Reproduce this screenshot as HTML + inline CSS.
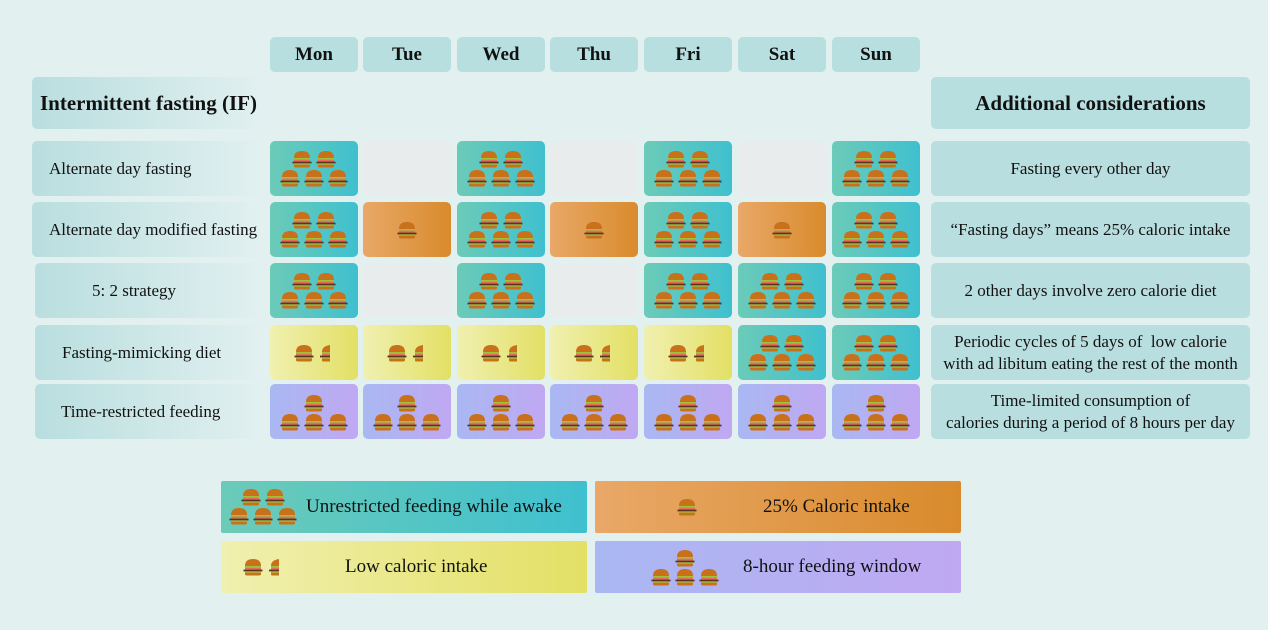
<!DOCTYPE html>
<html><head><meta charset="utf-8"><style>
body{margin:0;width:1268px;height:630px;background:#e2f0f0;font-family:"Liberation Serif",serif;position:relative;overflow:hidden}
.a{position:absolute;box-sizing:border-box;border-radius:5px;display:flex;align-items:center;justify-content:center;color:#111}
.day{background:#b8dfe0;font-weight:bold;font-size:19px}
.lab{background:linear-gradient(90deg,#b9dedf,#e2f0f0);font-size:17px;justify-content:flex-start;padding-left:17px;white-space:nowrap}
.rt{background:#b9dedf;font-size:17px;text-align:center;line-height:22px;white-space:nowrap}
.full{background:linear-gradient(90deg,#6ccbb8,#3fc0cf)}
.quar{background:linear-gradient(90deg,#e9a868,#d98b2c)}
.low{background:linear-gradient(90deg,#f0f0b0,#e3e065)}
.win{background:linear-gradient(90deg,#a9b8f2,#c0a8f2)}
.none{background:#e8eced}
svg.b{position:absolute}
.leg{font-size:19px}
</style></head><body>
<svg width="0" height="0" style="position:absolute"><defs>
<symbol id="burger" viewBox="0 0 20 18"><path d="M2 8 Q2 1 10 1 Q18 1 18 8Z" fill="#c8701a"/><rect x="2" y="8" width="16" height="1.6" fill="#9cc43a"/><rect x="2" y="9.6" width="16" height="2" fill="#e86a5a"/><rect x="0.5" y="11.6" width="19" height="1.8" fill="#5a3420"/><rect x="2" y="13.4" width="16" height="1.2" fill="#9cc43a"/><path d="M2 14.6 H18 V16 Q18 17.5 16 17.5 H4 Q2 17.5 2 16Z" fill="#c8701a"/></symbol>
<symbol id="half" viewBox="0 0 20 18"><path d="M6 8 Q6 2 14 1 V8Z" fill="#c8701a"/><rect x="6" y="8" width="8" height="1.6" fill="#9cc43a"/><rect x="6" y="9.6" width="8" height="2" fill="#e86a5a"/><rect x="4" y="11.6" width="10" height="1.8" fill="#5a3420"/><rect x="6" y="13.4" width="8" height="1.2" fill="#9cc43a"/><path d="M6 14.6 H14 V17.5 H7 Q6 17.5 6 16Z" fill="#c8701a"/></symbol>
</defs></svg>
<script>
const days=["Mon","Tue","Wed","Thu","Fri","Sat","Sun"];
const rowLabels=["Alternate day fasting","Alternate day modified fasting","5:2 strategy","Fasting-mimicking diet","Time-restricted feeding"];
const rowNotes=["Fasting every other day","“Fasting days” means 25% caloric intake","2 other days involve zero calorie diet","Periodic cycles of 5 days of &nbsp;low calorie<br>with ad libitum eating the rest of the month","Time-limited consumption of<br>calories during a period of 8 hours per day"];
const plan=[
["full","none","full","none","full","none","full"],
["full","quar","full","quar","full","quar","full"],
["full","none","full","none","full","full","full"],
["low","low","low","low","low","full","full"],
["win","win","win","win","win","win","win"]];
const colX=[270,363,457,550,644,738,832], colW=88;
const rowY=[141,202,263,325,384], rowH=55;
function box(x,y,w,h,cls,html,name){const d=document.createElement('div');d.className='a '+cls;d.style.cssText=`left:${x}px;top:${y}px;width:${w}px;height:${h}px`;if(html)d.innerHTML=html;


document.body.appendChild(d);return d;}
function burg(x,y,half){const s=document.createElementNS('http://www.w3.org/2000/svg','svg');s.setAttribute('class','b');s.setAttribute('width',20);s.setAttribute('height',18);s.style.left=(x-10)+'px';s.style.top=(y-9)+'px';s.innerHTML=`<use href="#${half?'half':'burger'}"/>`;


document.body.appendChild(s);}
function icons(type,cx,cy){
 if(type=='full'){burg(cx-12,cy-10);burg(cx+12,cy-10);burg(cx-24,cy+9);burg(cx,cy+9);burg(cx+24,cy+9);}
 else if(type=='quar'){burg(cx,cy);}
 else if(type=='low'){burg(cx-10,cy);burg(cx+12,cy,1);}
 else if(type=='win'){burg(cx,cy-9);burg(cx-24,cy+10);burg(cx,cy+10);burg(cx+24,cy+10);}
}
days.forEach((d,i)=>box(colX[i],37,colW,35,'day',d,'day-header-'+d.toLowerCase()));
box(32,77,233,52,'lab','<b style="font-size:21px;margin-left:-9px">Intermittent fasting (IF)</b>','if-title');
box(931,77,319,52,'day','<span style="font-size:21px">Additional considerations</span>','considerations-title');
const labOff=[0,0,40,10,9];
rowLabels.forEach((l,r)=>{
 box(r>=2?35:32,rowY[r],230,rowH,'lab','<span style="margin-left:'+labOff[r]+'px">'+(r==2?'5: 2 strategy':l)+'</span>','row-label');
 box(931,rowY[r],319,rowH,'rt',rowNotes[r],'row-note');
 plan[r].forEach((t,c)=>{box(colX[c],rowY[r],colW,rowH,t,'','cell-'+t);icons(t,colX[c]+colW/2,rowY[r]+rowH/2);});
});
const legTypes=["full","quar","low","win"];
const legText=["Unrestricted feeding while awake","25% Caloric intake","Low caloric intake","8-hour feeding window"];
const legX=[221,595,221,595],legY=[481,481,541,541];
legTypes.forEach((t,i)=>{const b=box(legX[i],legY[i],366,52,t+' leg','', 'legend-entry');b.style.borderRadius='2px';
 const sp=document.createElement('span');sp.textContent=legText[i];sp.style.cssText=`position:absolute;left:${[85,168,124,148][i]}px`;b.appendChild(sp);
 icons(t,legX[i]+(t=='low'?42:t=='quar'?92:t=='win'?90:42),legY[i]+26);});
</script>
</body></html>
